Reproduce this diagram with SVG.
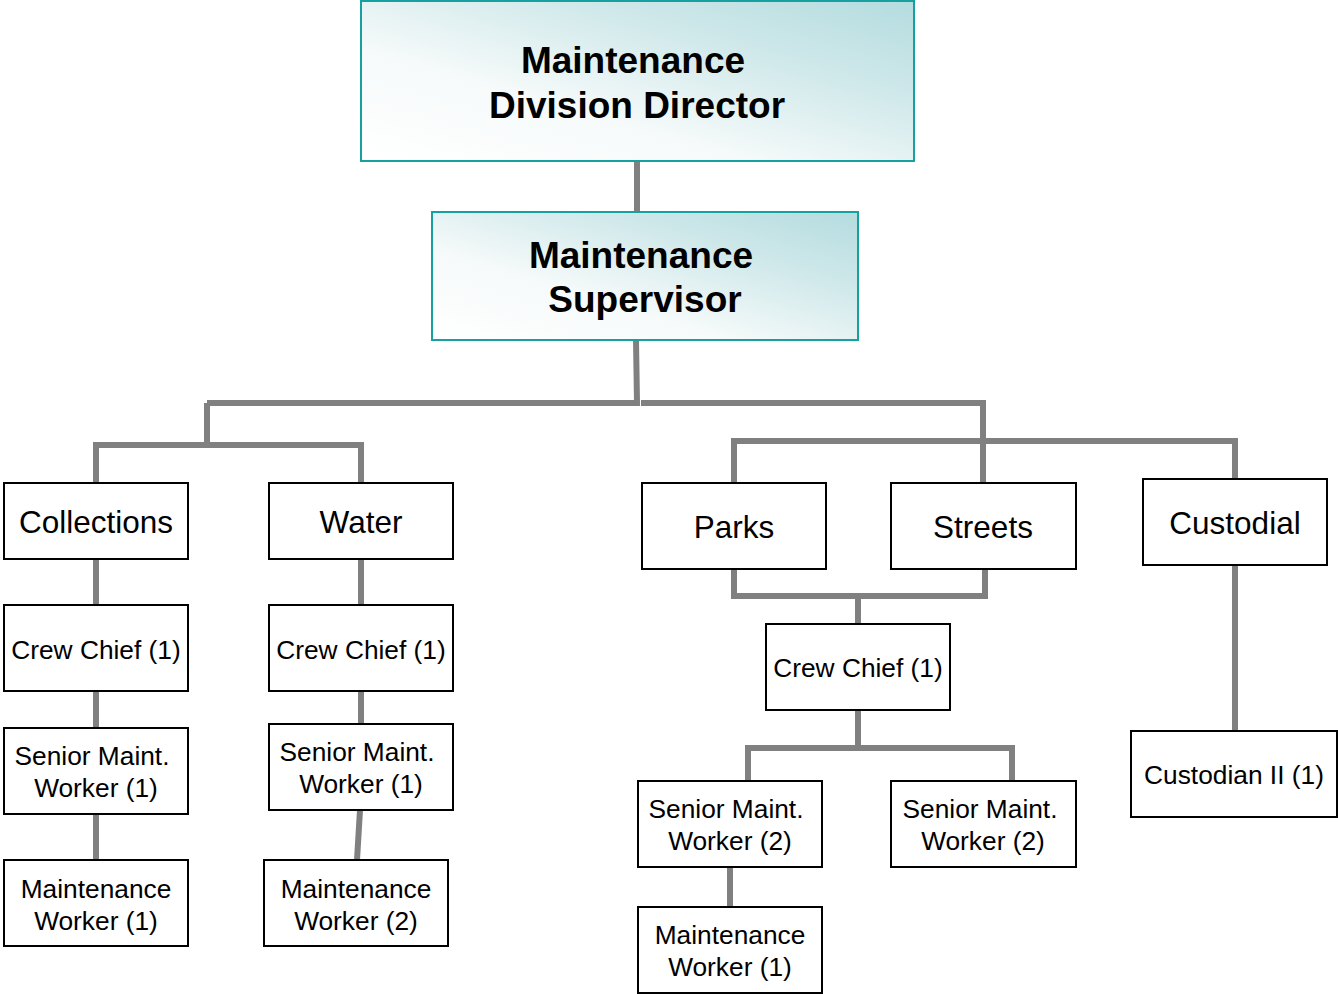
<svg xmlns="http://www.w3.org/2000/svg" width="1338" height="994" viewBox="0 0 1338 994">
<defs>
<linearGradient id="tg" x1="0" y1="1" x2="1" y2="0">
<stop offset="0" stop-color="#ffffff"/>
<stop offset="0.35" stop-color="#f6fafa"/>
<stop offset="0.7" stop-color="#cfe8ea"/>
<stop offset="1" stop-color="#b4dcdf"/>
</linearGradient>
<style>
.top rect{fill:url(#tg);stroke:#17a0a0;stroke-width:2}
.box rect{fill:#fff;stroke:#000;stroke-width:2}
text{font-family:"Liberation Sans",Arial,sans-serif;text-anchor:middle;fill:#000}
.tt{font-size:37px;font-weight:bold}
.l{font-size:31.5px}
.s{font-size:26.3px}
#connectors path{fill:none;stroke:#808080;stroke-width:6}
</style>
</defs>
<g id="connectors">
<path d="M637 161V211"/>
<path d="M636 340L637 403H207"/>
<path d="M641 403H983V483"/>
<path d="M207 403V445"/>
<path d="M96 483V445H361V483"/>
<path d="M734 483V441H1235V479"/>
<path d="M96 559V605M96 691V728M96 814V860"/>
<path d="M361 559V605M361 691V724M360 810L357 860"/>
<path d="M734 569V596H985V569M858 596V624"/>
<path d="M858 710V748M748 781V748H1012V785"/>
<path d="M730 867V907"/>
<path d="M1235 565V731"/>
</g>
<g id="director" class="top"><rect x="361" y="1" width="553" height="160"/><text class="tt" x="633" y="73">Maintenance</text><text class="tt" x="637" y="118">Division Director</text></g>
<g id="supervisor" class="top"><rect x="432" y="212" width="426" height="128"/><text class="tt" x="641" y="268">Maintenance</text><text class="tt" x="645" y="312">Supervisor</text></g>
<g id="collections" class="box"><rect x="4" y="483" width="184" height="76"/><text class="l" x="96" y="533">Collections</text></g>
<g id="water" class="box"><rect x="269" y="483" width="184" height="76"/><text class="l" x="361" y="533">Water</text></g>
<g id="cc-col" class="box"><rect x="4" y="605" width="184" height="86"/><text class="s" x="96" y="659">Crew Chief (1)</text></g>
<g id="cc-water" class="box"><rect x="269" y="605" width="184" height="86"/><text class="s" x="361" y="659">Crew Chief (1)</text></g>
<g id="smw-col" class="box"><rect x="4" y="728" width="184" height="86"/><text class="s" x="92" y="765">Senior Maint.</text><text class="s" x="96" y="797">Worker (1)</text></g>
<g id="smw-water" class="box"><rect x="269" y="724" width="184" height="86"/><text class="s" x="357" y="761">Senior Maint.</text><text class="s" x="361" y="793">Worker (1)</text></g>
<g id="mw-col" class="box"><rect x="4" y="860" width="184" height="86"/><text class="s" x="96" y="898">Maintenance</text><text class="s" x="96" y="930">Worker (1)</text></g>
<g id="mw-water" class="box"><rect x="264" y="860" width="184" height="86"/><text class="s" x="356" y="898">Maintenance</text><text class="s" x="356" y="930">Worker (2)</text></g>
<g id="parks" class="box"><rect x="642" y="483" width="184" height="86"/><text class="l" x="734" y="538">Parks</text></g>
<g id="streets" class="box"><rect x="891" y="483" width="185" height="86"/><text class="l" x="983" y="538">Streets</text></g>
<g id="custodial" class="box"><rect x="1143" y="479" width="184" height="86"/><text class="l" x="1235" y="534">Custodial</text></g>
<g id="cc-ps" class="box"><rect x="766" y="624" width="184" height="86"/><text class="s" x="858" y="677">Crew Chief (1)</text></g>
<g id="smw-ps1" class="box"><rect x="638" y="781" width="184" height="86"/><text class="s" x="726" y="818">Senior Maint.</text><text class="s" x="730" y="850">Worker (2)</text></g>
<g id="smw-ps2" class="box"><rect x="891" y="781" width="185" height="86"/><text class="s" x="980" y="818">Senior Maint.</text><text class="s" x="983" y="850">Worker (2)</text></g>
<g id="mw-ps" class="box"><rect x="638" y="907" width="184" height="86"/><text class="s" x="730" y="944">Maintenance</text><text class="s" x="730" y="976">Worker (1)</text></g>
<g id="custodian2" class="box"><rect x="1131" y="731" width="206" height="86"/><text class="s" x="1234" y="784">Custodian II (1)</text></g>
</svg>
